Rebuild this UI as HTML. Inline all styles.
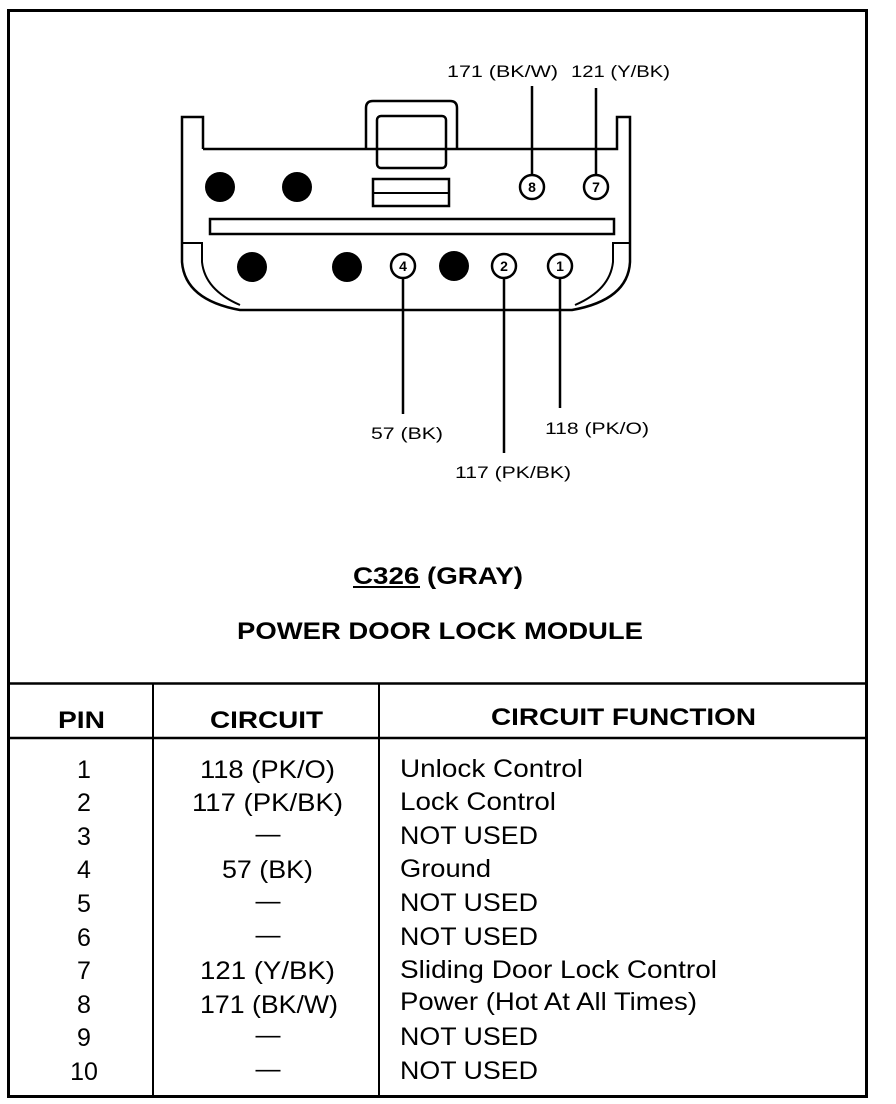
<!DOCTYPE html>
<html><head><style>
html,body{margin:0;padding:0;background:#fff;}
svg{display:block;}
text{font-family:"Liberation Sans",sans-serif;fill:#000;}
</style></head><body>
<svg width="896" height="1104" viewBox="0 0 896 1104" xmlns="http://www.w3.org/2000/svg">
<g fill="none" stroke="#000">
<rect x="8.5" y="10.5" width="858" height="1086" stroke-width="3"/>
<line x1="9" y1="683.5" x2="867" y2="683.5" stroke-width="2.5"/>
<line x1="9" y1="738" x2="867" y2="738" stroke-width="2.5"/>
<line x1="153" y1="684" x2="153" y2="1096" stroke-width="2"/>
<line x1="379" y1="684" x2="379" y2="1096" stroke-width="2"/>
<path d="M366,149 V108 Q366,101 373,101 H450 Q457,101 457,108 V149" stroke-width="2.5"/>
<rect x="377" y="116" width="69" height="52" rx="4" stroke-width="2.5"/>
<path d="M203,149 H617 V117 H630 V245 M182,245 V117 H203 V149" stroke-width="2.5"/>
<path d="M182,245 V262 Q185,300 240,310 H572 Q628,300 630,262 V245" stroke-width="2.5"/>
<path d="M182,243 H202 V262 Q205,290 240,305" stroke-width="2"/>
<path d="M630,243 H613 V262 Q610,290 575,305" stroke-width="2"/>
<rect x="373" y="179" width="76" height="27" stroke-width="2.5"/>
<line x1="373" y1="193" x2="449" y2="193" stroke-width="2"/>
<rect x="210" y="219" width="404" height="15" stroke-width="2.5"/>
<circle cx="532" cy="187" r="12" stroke-width="2.5"/>
<circle cx="596" cy="187" r="12" stroke-width="2.5"/>
<circle cx="403" cy="266" r="12" stroke-width="2.5"/>
<circle cx="504" cy="266" r="12" stroke-width="2.5"/>
<circle cx="560" cy="266" r="12" stroke-width="2.5"/>
<line x1="532" y1="86" x2="532" y2="175" stroke-width="2.5"/>
<line x1="596" y1="88" x2="596" y2="175" stroke-width="2.5"/>
<line x1="403" y1="278" x2="403" y2="414" stroke-width="2.5"/>
<line x1="504" y1="278" x2="504" y2="453" stroke-width="2.5"/>
<line x1="560" y1="278" x2="560" y2="408" stroke-width="2.5"/>
<line x1="353" y1="587" x2="420" y2="587" stroke-width="2"/>
</g>
<g fill="#000">
<circle cx="220" cy="187" r="15"/><circle cx="297" cy="187" r="15"/>
<circle cx="252" cy="267" r="15"/><circle cx="347" cy="267" r="15"/><circle cx="454" cy="266" r="15"/>
</g>
<g font-size="14" font-weight="bold" text-anchor="middle">
<text x="532" y="192">8</text><text x="596" y="192">7</text>
<text x="403" y="271">4</text><text x="504" y="271">2</text><text x="560" y="271">1</text>
</g>
<g font-size="17">
<text x="447" y="77" textLength="111" lengthAdjust="spacingAndGlyphs">171 (BK/W)</text>
<text x="571" y="77" textLength="99" lengthAdjust="spacingAndGlyphs">121 (Y/BK)</text>
<text x="371" y="439" textLength="72" lengthAdjust="spacingAndGlyphs">57 (BK)</text>
<text x="455" y="478" textLength="116" lengthAdjust="spacingAndGlyphs">117 (PK/BK)</text>
<text x="545" y="434" textLength="104" lengthAdjust="spacingAndGlyphs">118 (PK/O)</text>
</g>
<g font-size="24" font-weight="bold">
<text x="353" y="584" textLength="170" lengthAdjust="spacingAndGlyphs">C326 (GRAY)</text>
<text x="237" y="639" textLength="406" lengthAdjust="spacingAndGlyphs">POWER DOOR LOCK MODULE</text>
<text x="58" y="728" textLength="47" lengthAdjust="spacingAndGlyphs">PIN</text>
<text x="210" y="728" textLength="113" lengthAdjust="spacingAndGlyphs">CIRCUIT</text>
<text x="491" y="725" textLength="265" lengthAdjust="spacingAndGlyphs">CIRCUIT FUNCTION</text>
</g>
<g font-size="25">
<g text-anchor="middle">
<text x="84" y="778">1</text><text x="84" y="811">2</text><text x="84" y="845">3</text><text x="84" y="878">4</text><text x="84" y="912">5</text><text x="84" y="946">6</text><text x="84" y="979">7</text><text x="84" y="1013">8</text><text x="84" y="1046">9</text><text x="84" y="1080">10</text>
<text x="268" y="842">—</text><text x="268" y="909">—</text><text x="268" y="943">—</text><text x="268" y="1043">—</text><text x="268" y="1077">—</text>
</g>
<text x="200" y="778" textLength="135" lengthAdjust="spacingAndGlyphs">118 (PK/O)</text>
<text x="192" y="811" textLength="151" lengthAdjust="spacingAndGlyphs">117 (PK/BK)</text>
<text x="222" y="878" textLength="91" lengthAdjust="spacingAndGlyphs">57 (BK)</text>
<text x="200" y="979" textLength="135" lengthAdjust="spacingAndGlyphs">121 (Y/BK)</text>
<text x="200" y="1013" textLength="138" lengthAdjust="spacingAndGlyphs">171 (BK/W)</text>
<text x="400" y="777" textLength="183" lengthAdjust="spacingAndGlyphs">Unlock Control</text>
<text x="400" y="810" textLength="156" lengthAdjust="spacingAndGlyphs">Lock Control</text>
<text x="400" y="844" textLength="138" lengthAdjust="spacingAndGlyphs">NOT USED</text>
<text x="400" y="877" textLength="91" lengthAdjust="spacingAndGlyphs">Ground</text>
<text x="400" y="911" textLength="138" lengthAdjust="spacingAndGlyphs">NOT USED</text>
<text x="400" y="945" textLength="138" lengthAdjust="spacingAndGlyphs">NOT USED</text>
<text x="400" y="978" textLength="317" lengthAdjust="spacingAndGlyphs">Sliding Door Lock Control</text>
<text x="400" y="1010" textLength="297" lengthAdjust="spacingAndGlyphs">Power (Hot At All Times)</text>
<text x="400" y="1045" textLength="138" lengthAdjust="spacingAndGlyphs">NOT USED</text>
<text x="400" y="1079" textLength="138" lengthAdjust="spacingAndGlyphs">NOT USED</text>
</g>
</svg>
</body></html>
